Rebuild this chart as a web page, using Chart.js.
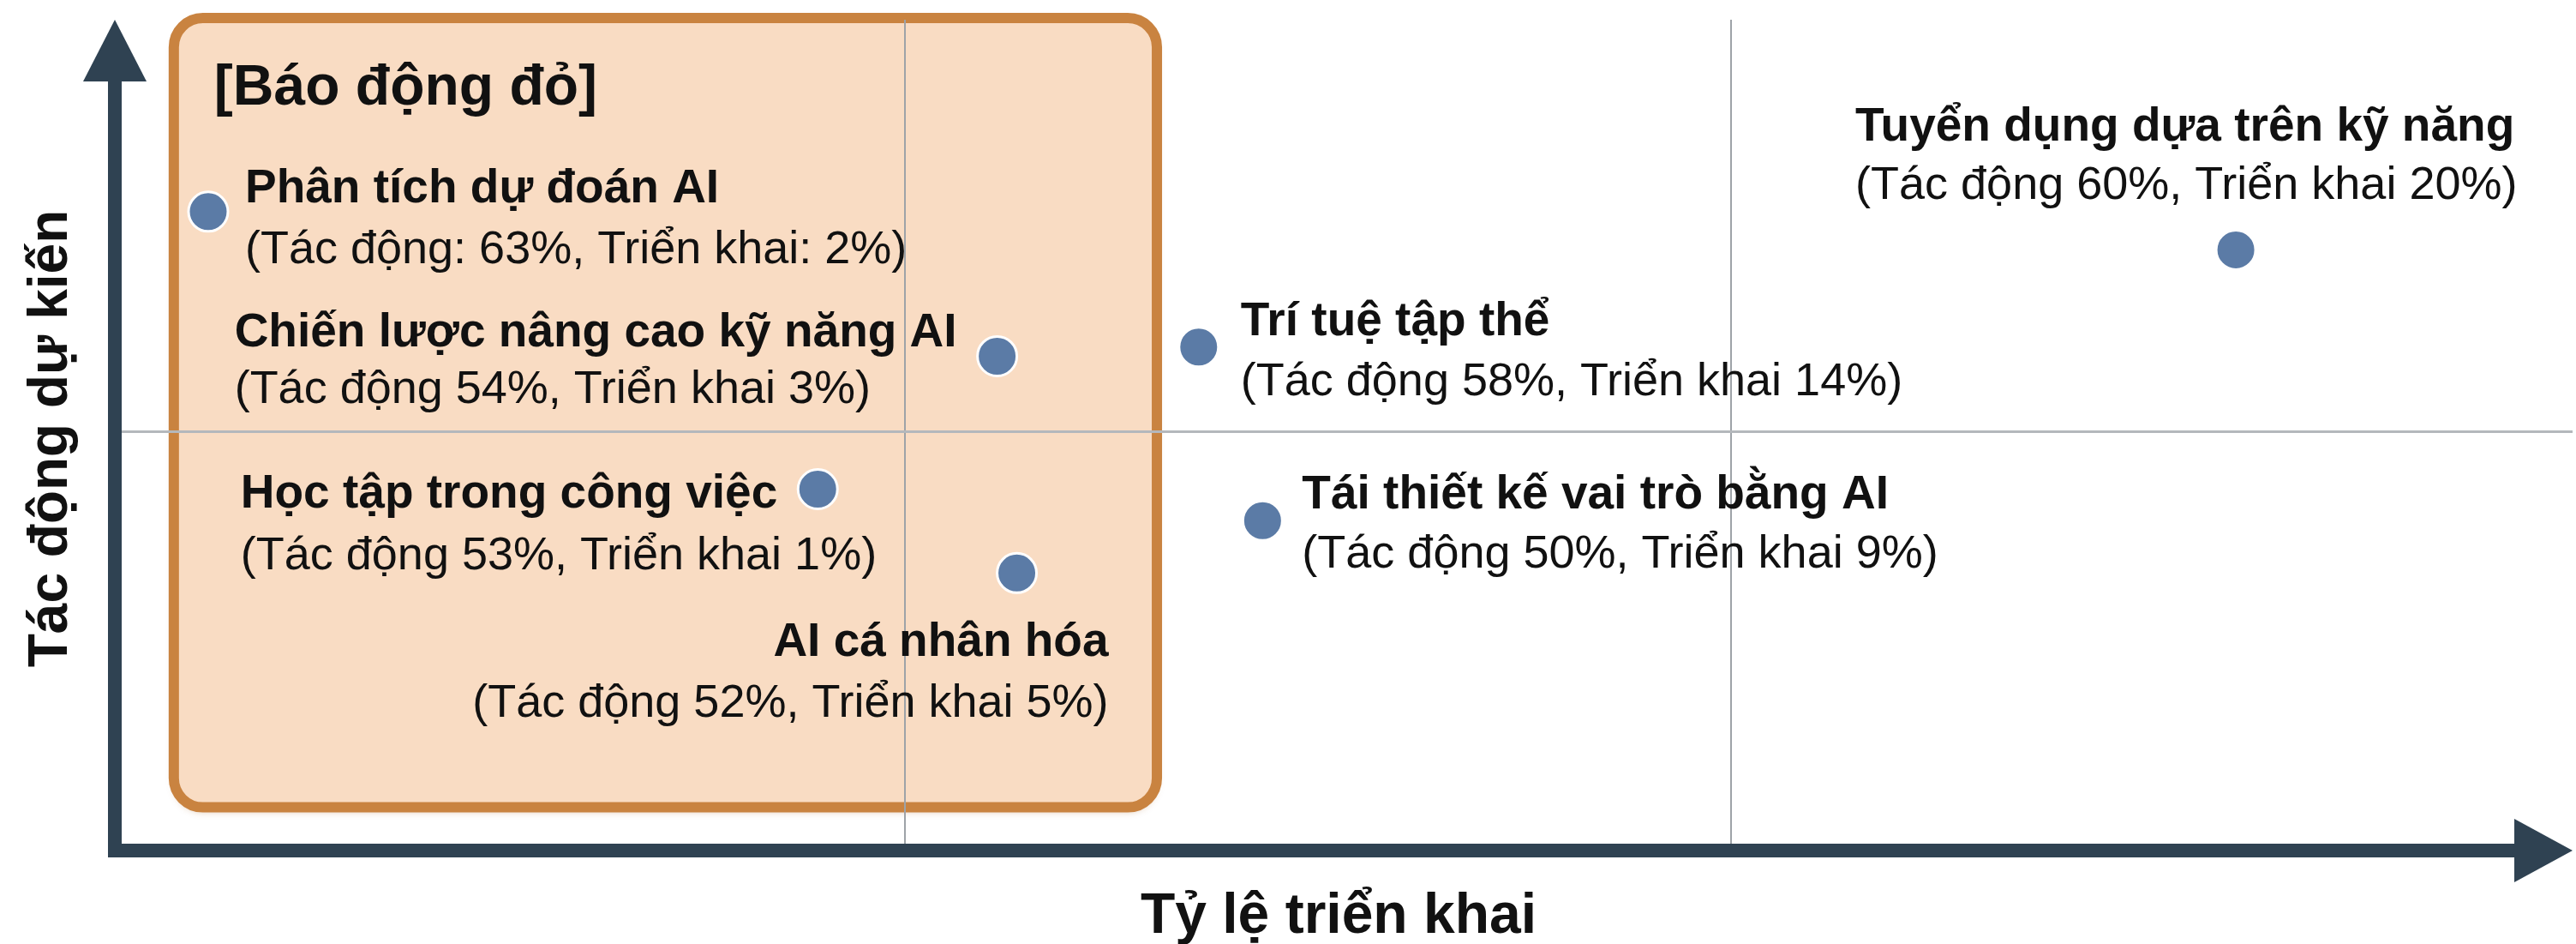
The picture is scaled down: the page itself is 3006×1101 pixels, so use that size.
<!DOCTYPE html>
<html>
<head>
<meta charset="utf-8">
<script src="https://cdn.jsdelivr.net/npm/chart.js@4.4.1/dist/chart.umd.min.js"></script>
<style>
  html, body { margin: 0; padding: 0; overflow: hidden; background: #ffffff; }
  #wrap { width: 3006px; height: 1101px; }
  canvas { display: block; }
</style>
</head>
<body>
<div id="wrap"><canvas id="chart"></canvas></div>
<script>
// items on the map
var names = [
    "Phân tích dự đoán AI",
    "Chiến lược nâng cao kỹ năng AI",
    "Trí tuệ tập thể",
    "Tuyển dụng dựa trên kỹ năng",
    "Học tập trong công việc",
    "AI cá nhân hóa",
    "Tái thiết kế vai trò bằng AI"
];
// values written in the labels
var impact = [63, 54, 58, 60, 53, 52, 50];
var deploy = [2, 3, 14, 20, 1, 5, 9];
var useColon = [true, false, false, false, false, false, false];

// where the dots sit on the (unlabelled) axes, 0-100
var posX = [3.8, 35.9, 44.1, 86.3, 28.6, 36.7, 46.7];
var posY = [76.9, 59.5, 60.6, 72.3, 43.5, 33.4, 39.7];

// quadrant lines
var gridX = [32.15, 65.76];
var gridY = [50.4];

// "red alert" zone
var zoneX = [2.4, 42.4];
var zoneY = [5.2, 100.2];
var zoneTitle = "[Báo động đỏ]";

var xTitle = "Tỷ lệ triển khai";
var yTitle = "Tác động dự kiến";

// label placement for each point (style only)
var labelPos = [
    { mode: "left", dx: 43, dy: -11, gap: 71 },
    { mode: "titleRight", dx: -47, dy: -11, gap: 66 },
    { mode: "left", dx: 49, dy: -14, gap: 70 },
    { mode: "left", dx: -444, dy: -127, gap: 68 },
    { mode: "titleRight", dx: -47, dy: 22, gap: 72 },
    { mode: "right", dx: 107, dy: 97, gap: 71 },
    { mode: "left", dx: 46, dy: -14, gap: 69 }
];

var FONT = "'Liberation Sans', Arial, sans-serif";
var AXIS = "#2f4252";

function subText(i) {
    var s = useColon[i] ? ": " : " ";
    return "(Tác động" + s + impact[i] + "%, Triển khai" + s + deploy[i] + "%)";
}

var points = [];
for (var i = 0; i < names.length; i++) {
    points.push({ x: posX[i], y: posY[i] });
}

var zonePlugin = {
    id: "zone",
    beforeDraw: function (chart) {
        var ctx = chart.ctx;
        var xs = chart.scales.x, ys = chart.scales.y;
        var l = xs.getPixelForValue(zoneX[0]), r = xs.getPixelForValue(zoneX[1]);
        var t = ys.getPixelForValue(zoneY[1]), b = ys.getPixelForValue(zoneY[0]);
        ctx.save();
        ctx.shadowColor = "rgba(160, 95, 30, 0.35)";
        ctx.shadowBlur = 8;
        ctx.shadowOffsetY = 5;
        ctx.beginPath();
        ctx.roundRect(l, t, r - l, b - t, 34);
        ctx.fillStyle = "#f9dcc3";
        ctx.fill();
        ctx.shadowColor = "transparent";
        ctx.lineWidth = 12;
        ctx.strokeStyle = "#c98340";
        ctx.stroke();
        ctx.fillStyle = "#111111";
        ctx.font = "bold 66px " + FONT;
        ctx.textAlign = "left";
        ctx.textBaseline = "alphabetic";
        ctx.fillText(zoneTitle, l + 47, t + 101);
        ctx.restore();
    }
};

var decoPlugin = {
    id: "deco",
    afterDatasetsDraw: function (chart) {
        var ctx = chart.ctx;
        var a = chart.chartArea;
        ctx.save();
        // axes with arrows
        ctx.fillStyle = AXIS;
        ctx.fillRect(a.left - 8, a.top + 60, 16, a.bottom - a.top - 52);
        ctx.fillRect(a.left - 8, a.bottom - 8, a.right - a.left - 60, 16);
        ctx.beginPath();
        ctx.moveTo(a.left, a.top);
        ctx.lineTo(a.left - 37, a.top + 72);
        ctx.lineTo(a.left + 37, a.top + 72);
        ctx.closePath();
        ctx.fill();
        ctx.beginPath();
        ctx.moveTo(a.right, a.bottom);
        ctx.lineTo(a.right - 68, a.bottom - 37);
        ctx.lineTo(a.right - 68, a.bottom + 37);
        ctx.closePath();
        ctx.fill();

        // axis titles
        ctx.fillStyle = "#111111";
        ctx.font = "bold 66px " + FONT;
        ctx.textAlign = "center";
        ctx.textBaseline = "alphabetic";
        ctx.fillText(xTitle, (a.left + a.right) / 2 - 6, 1088);
        ctx.save();
        ctx.translate(78, (a.top + a.bottom) / 2 + 4);
        ctx.rotate(-Math.PI / 2);
        ctx.font = "bold 64px " + FONT;
        ctx.fillText(yTitle, 0, 0);
        ctx.restore();

        // point labels
        var meta = chart.getDatasetMeta(0);
        for (var i = 0; i < names.length; i++) {
            var p = meta.data[i];
            var lp = labelPos[i];
            var tx = p.x + lp.dx, ty = p.y + lp.dy;
            var sub = subText(i);
            ctx.font = "bold 55px " + FONT;
            var tw = ctx.measureText(names[i]).width;
            var align = "left", x0 = tx;
            if (lp.mode === "right") {
                align = "right";
            } else if (lp.mode === "titleRight") {
                x0 = tx - tw;
            }
            ctx.textAlign = align;
            ctx.fillText(names[i], x0, ty);
            ctx.font = "54px " + FONT;
            ctx.fillText(sub, x0, ty + lp.gap);
        }
        ctx.restore();
    }
};

var ctx = document.getElementById("chart").getContext("2d");
var chart = new Chart(ctx, {
    type: "scatter",
    data: {
        datasets: [{
            data: points,
            pointRadius: 23,
            pointHoverRadius: 23,
            pointBackgroundColor: "#5b7ba6",
            pointBorderColor: "#ffffff",
            pointBorderWidth: 3
        }]
    },
    options: {
        responsive: true,
        maintainAspectRatio: false,
        animation: false,
        layout: {
            autoPadding: false,
            padding: { left: 134, right: 4, top: 23, bottom: 109 }
        },
        plugins: {
            legend: { display: false },
            tooltip: { enabled: false }
        },
        scales: {
            x: {
                min: 0,
                max: 100,
                afterBuildTicks: function (scale) {
                    scale.ticks = gridX.map(function (v) { return { value: v }; });
                },
                ticks: { display: false },
                border: { display: false },
                grid: { color: "#9ea3a8", lineWidth: 2, drawTicks: false }
            },
            y: {
                min: 0,
                max: 100,
                afterBuildTicks: function (scale) {
                    scale.ticks = gridY.map(function (v) { return { value: v }; });
                },
                ticks: { display: false },
                border: { display: false },
                grid: { color: "#b4b8bc", lineWidth: 3, drawTicks: false }
            }
        }
    },
    plugins: [zonePlugin, decoPlugin]
});
</script>
</body>
</html>
